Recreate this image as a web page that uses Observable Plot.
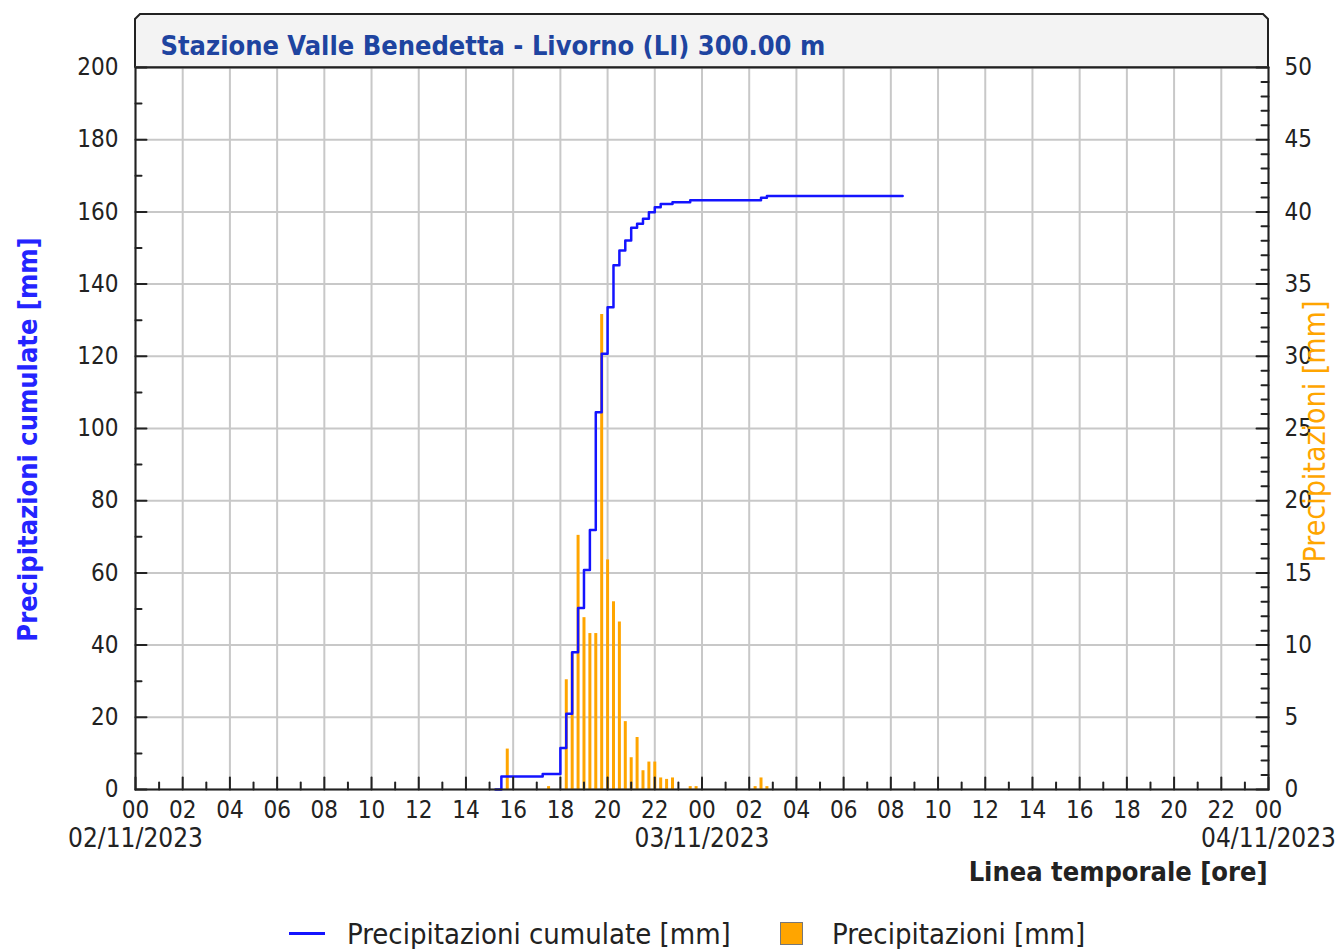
<!DOCTYPE html>
<html>
<head>
<meta charset="utf-8">
<script src="https://cdn.jsdelivr.net/npm/d3@7"></script>
<script src="https://cdn.jsdelivr.net/npm/@observablehq/plot@0.6"></script>
<style>
  html, body { margin: 0; padding: 0; background: #fff; }
  body { width: 1338px; height: 949px; overflow: hidden; font-family: "DejaVu Sans Condensed", "DejaVu Sans", sans-serif; }
  #legend { position: relative; width: 1338px; height: 49px; color: #222; font-size: 29px; }
  #legend .sw-line { position: absolute; left: 289px; top: 32px; width: 36px; height: 3px; background: #1414ff; }
  #legend .sw-box { position: absolute; left: 780px; top: 22px; width: 21px; height: 21px; background: #ffa500; border: 1px solid #777; }
  #legend .lab { position: absolute; top: 34px; transform: translateY(-50%); white-space: nowrap; line-height: 1; }
</style>
</head>
<body>
<div id="chart"></div>
<div id="legend">
  <span class="sw-line"></span><span class="lab" style="left:347px">Precipitazioni cumulate [mm]</span>
  <span class="sw-box"></span><span class="lab" style="left:832px">Precipitazioni [mm]</span>
</div>
<script>
// ---- data ----
const titleText = "Stazione Valle Benedetta - Livorno (LI) 300.00 m";
const leftLabel = "Precipitazioni cumulate [mm]";
const rightLabel = "Precipitazioni [mm]";
const xLabel = "Linea temporale [ore]";

// cumulative precipitation (left axis, mm), step after each time
const cumTimes = [
  "2023-11-02 15:15", "2023-11-02 15:30", "2023-11-02 17:15", "2023-11-02 18:00",
  "2023-11-02 18:15", "2023-11-02 18:30", "2023-11-02 18:45", "2023-11-02 19:00",
  "2023-11-02 19:15", "2023-11-02 19:30", "2023-11-02 19:45", "2023-11-02 20:00",
  "2023-11-02 20:15", "2023-11-02 20:30", "2023-11-02 20:45", "2023-11-02 21:00",
  "2023-11-02 21:15", "2023-11-02 21:30", "2023-11-02 21:45", "2023-11-02 22:00",
  "2023-11-02 22:15", "2023-11-02 22:45", "2023-11-02 23:30", "2023-11-03 02:30",
  "2023-11-03 02:45", "2023-11-03 08:30"
];
const cumValues = [
  0, 3.6, 4.3, 11.5,
  21.0, 38.0, 50.3, 60.8,
  71.9, 104.5, 120.7, 133.6,
  145.2, 149.3, 152.1, 155.6,
  156.7, 158.1, 159.9, 161.3,
  162.2, 162.7, 163.2, 163.9,
  164.4, 164.4
];

// 15-minute precipitation (right axis, mm)
const barTimes = [
  "2023-11-02 15:45", "2023-11-02 17:30", "2023-11-02 18:15", "2023-11-02 18:30",
  "2023-11-02 18:45", "2023-11-02 19:00", "2023-11-02 19:15", "2023-11-02 19:30",
  "2023-11-02 19:45", "2023-11-02 20:00", "2023-11-02 20:15", "2023-11-02 20:30",
  "2023-11-02 20:45", "2023-11-02 21:00", "2023-11-02 21:15", "2023-11-02 21:30",
  "2023-11-02 21:45", "2023-11-02 22:00", "2023-11-02 22:15", "2023-11-02 22:30",
  "2023-11-02 22:45", "2023-11-02 23:30", "2023-11-02 23:45", "2023-11-03 02:15",
  "2023-11-03 02:30", "2023-11-03 02:45"
];
const barValues = [
  2.8, 0.2, 7.6, 9.5,
  17.6, 11.9, 10.8, 10.8,
  32.9, 15.9, 13.0, 11.6,
  4.7, 2.2, 3.6, 1.3,
  1.9, 1.9, 0.8, 0.7,
  0.8, 0.2, 0.2, 0.2,
  0.8, 0.2
];

const xStart = "2023-11-02 00:00";
const xEnd = "2023-11-04 00:00";
const leftTicks = [0, 20, 40, 60, 80, 100, 120, 140, 160, 180, 200];
const rightTicks = [0, 5, 10, 15, 20, 25, 30, 35, 40, 45, 50];
const leftMinorTicks = [10, 30, 50, 70, 90, 110, 130, 150, 170, 190];
const rightMinorTicks = d3.range(0, 51).filter(v => v % 5 !== 0);

// ---- build ----
const parse = d3.utcParse("%Y-%m-%d %H:%M");
const ratio = leftTicks[leftTicks.length - 1] / rightTicks[rightTicks.length - 1];
const cum = cumTimes.map((t, i) => ({t: parse(t), v: cumValues[i]}));
const bars = barTimes.map((t, i) => ({t: parse(t), v: barValues[i]}));
const x0 = parse(xStart), x1 = parse(xEnd);
const hours = d3.utcHour.range(x0, new Date(+x1 + 1));
const majorHours = hours.filter(d => d.getUTCHours() % 2 === 0);
const minorHours = hours.filter(d => d.getUTCHours() % 2 === 1);
const days = d3.utcDay.range(x0, new Date(+x1 + 1));

const FONT = '"DejaVu Sans Condensed", "DejaVu Sans", sans-serif';
const AX = "#222";
const GRID = "#c8c8c8";
const BLUE = "#1414ff";
const ORANGE = "#ffa500";

const tickShape = {draw(context, l) { context.moveTo(0, 0); context.lineTo(0, -l); }};
const ticks = (data, opts) => Plot.vector(data, {anchor: "start", shape: tickShape, stroke: AX, strokeWidth: 2, ...opts});

const plot = Plot.plot({
  width: 1338,
  height: 900,
  marginLeft: 135,
  marginRight: 70,
  marginTop: 67,
  marginBottom: 111,
  style: {fontFamily: FONT, fontSize: "24px", color: AX, background: "#fff", overflow: "visible"},
  x: {type: "utc", domain: [x0, x1], label: null},
  y: {domain: [leftTicks[0], leftTicks[leftTicks.length - 1]], label: null},
  marks: [
    Plot.gridX(majorHours, {stroke: GRID, strokeOpacity: 1, strokeWidth: 2}),
    Plot.gridY(leftTicks, {stroke: GRID, strokeOpacity: 1, strokeWidth: 2}),
    Plot.ruleX(bars, {x: "t", y1: 0, y2: d => d.v * ratio, stroke: ORANGE, strokeWidth: 3}),
    Plot.line(cum, {x: "t", y: "v", curve: "step-after", stroke: BLUE, strokeWidth: 2.5}),
    Plot.frame({stroke: AX, strokeWidth: 2}),
    // inward ticks
    ticks(majorHours, {x: d => d, y: leftTicks[0], length: 12, rotate: 0}),
    ticks(minorHours, {x: d => d, y: leftTicks[0], length: 7, rotate: 0}),
    ticks(leftTicks, {x: x0, y: d => d, length: 11, rotate: 90}),
    ticks(leftMinorTicks, {x: x0, y: d => d, length: 6, rotate: 90}),
    ticks(rightTicks, {x: x1, y: d => d * ratio, length: 12, rotate: -90}),
    ticks(rightMinorTicks, {x: x1, y: d => d * ratio, length: 7, rotate: -90}),
    // tick labels
    Plot.axisX(majorHours, {anchor: "bottom", tickSize: 0, tickPadding: 11, tickFormat: d3.utcFormat("%H"), label: null, fontSize: 24, fill: AX}),
    Plot.axisX(days, {anchor: "bottom", tickSize: 0, tickPadding: 39, tickFormat: d3.utcFormat("%d/%m/%Y"), label: null, fontSize: 26, fill: AX}),
    Plot.axisY(leftTicks, {anchor: "left", tickSize: 0, tickPadding: 17, label: null, fontSize: 24, fill: AX}),
    Plot.axisY(rightTicks.map(v => v * ratio), {anchor: "right", tickSize: 0, tickPadding: 16, tickFormat: d => d / ratio, label: null, fontSize: 24, fill: AX}),
    // axis titles
    Plot.text([leftLabel], {frameAnchor: "left", rotate: -90, dx: -107, dy: 11, fill: "#2424ff", fontWeight: "bold", fontSize: 27, textAnchor: "middle", lineAnchor: "middle"}),
    Plot.text([rightLabel], {frameAnchor: "right", rotate: -90, dx: 47, dy: 3, fill: ORANGE, fontSize: 30, textAnchor: "middle", lineAnchor: "middle"}),
    Plot.text([xLabel], {frameAnchor: "bottom-right", textAnchor: "end", lineAnchor: "middle", dx: -1, dy: 83, fontWeight: "bold", fontSize: 27, fill: AX}),
    Plot.text([titleText], {frameAnchor: "top-left", textAnchor: "start", lineAnchor: "middle", dx: 25, dy: -21, fill: "#1e44a0", fontWeight: "bold", fontSize: 27})
  ]
});

// header box behind the title, aligned to the plot frame
const sx = plot.scale("x").range, sy = plot.scale("y").range;
const L = sx[0], R = sx[1], B = Math.min(sy[0], sy[1]), T = 14, c = 5;
d3.select(plot).insert("path", ":first-child")
  .attr("d", `M${L},${B}V${T + c}L${L + c},${T}H${R - c}L${R},${T + c}V${B}Z`)
  .attr("fill", "#f3f3f3").attr("stroke", AX).attr("stroke-width", 2);

document.getElementById("chart").append(plot);
</script>
</body>
</html>
